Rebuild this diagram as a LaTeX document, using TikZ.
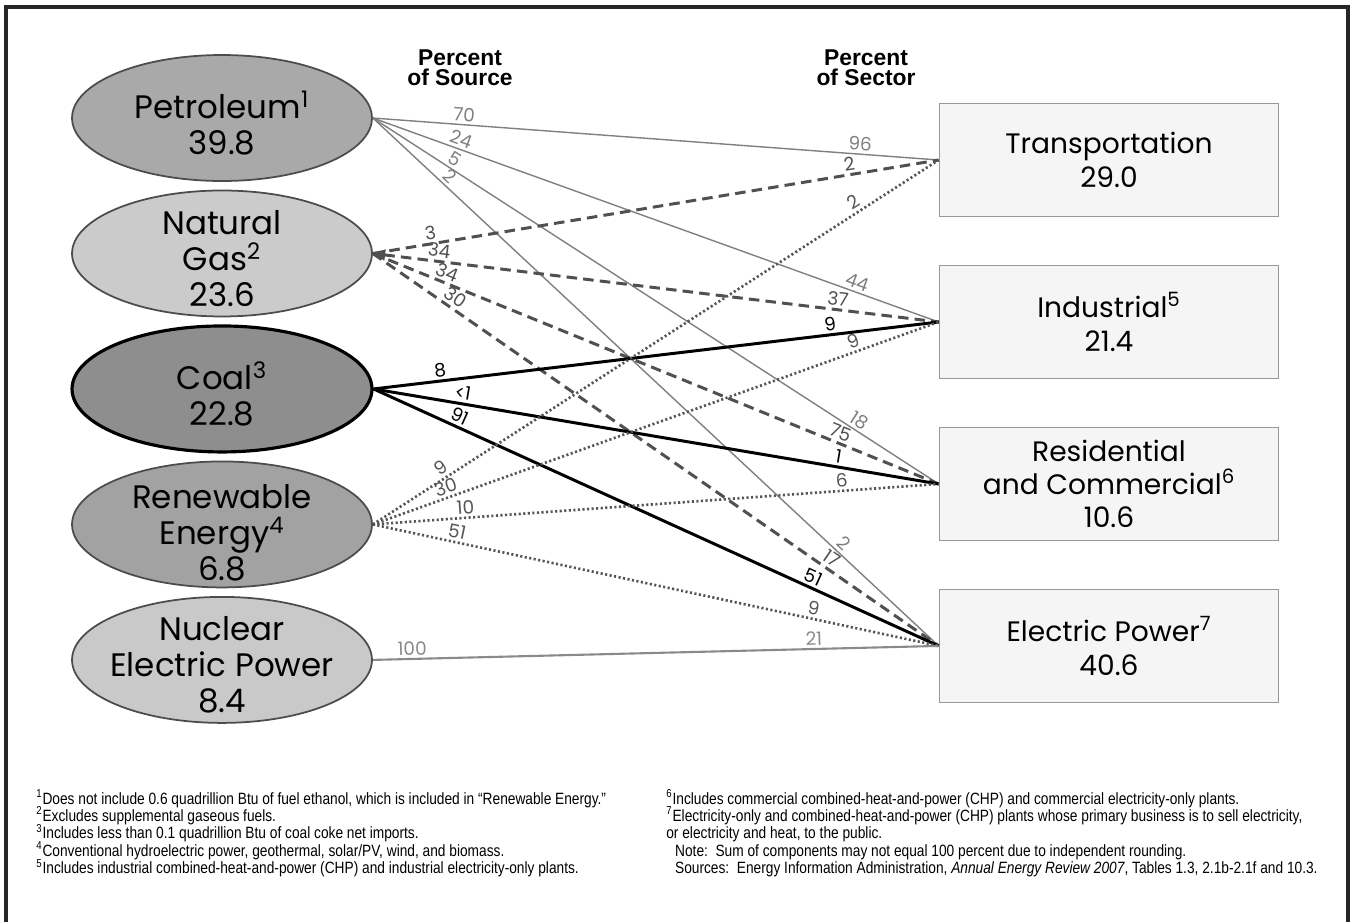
\documentclass[tikz,border=0pt]{standalone}
\usepackage{fontspec}
\setmainfont{Poppins}
\newfontfamily\notefont[FakeStretch=0.84]{Liberation Sans}
\newfontfamily\headfont{Liberation Sans}
\usetikzlibrary{positioning,shapes.geometric,arrows.meta}

\newcommand{\fnmark}[1]{\smash{\textsuperscript{#1}}}

\definecolor{petfill}{HTML}{A9A9A9}
\definecolor{gasfill}{HTML}{CBCBCB}
\definecolor{coalfill}{HTML}{8E8E8E}
\definecolor{renfill}{HTML}{A2A2A2}
\definecolor{nucfill}{HTML}{C9C9C9}
\definecolor{petgray}{HTML}{808080}
\definecolor{gasgray}{HTML}{505050}
\definecolor{rengray}{HTML}{555555}
\definecolor{nucgray}{HTML}{8A8A8A}

\tikzset{
  srcnode/.style={ellipse,draw=black!70,line width=1pt,minimum width=6cm,minimum height=2.52cm,inner sep=0pt},
  srctext/.style={align=center,yshift=-3pt,font=\fontsize{18.5}{20.5}\selectfont},
  secnode/.style={rectangle,draw=black!40,fill=black!4,line width=1pt,minimum width=6.78cm,minimum height=2.26cm,align=center,font=\fontsize{16}{19}\selectfont},
  pct/.style={sloped,above,inner sep=1.5pt,font=\fontsize{10.5}{11}\selectfont,text=#1},
  petline/.style={draw=petgray,line width=.8pt},
  gasline/.style={draw=gasgray,line width=1.7pt,dash pattern=on 6pt off 3.5pt},
  coalline/.style={draw=black,line width=1.7pt},
  renline/.style={draw=rengray,line width=1.5pt,dash pattern=on 1.2pt off 1.4pt},
  nucline/.style={draw=nucgray,line width=1.2pt},
  header/.style={align=center,font=\headfont\bfseries\fontsize{13}{11.5}\selectfont},
  notes/.style={anchor=north west,align=left,inner sep=0pt,font=\notefont\fontsize{9.3}{9.9}\selectfont},
}

\begin{document}
\begin{tikzpicture}[x=0.02cm,y=-0.02cm,node distance=2.71cm,on grid]
  \useasboundingbox (0,0) rectangle (1352,921);
  \draw[line width=2.4pt,black!85] (6,930) -- (6,7) -- (1348,7) -- (1348,930);

  % energy sources
  \node[srcnode,fill=petfill,label={[srctext]center:Petroleum\textsuperscript{1}\\39.8}] (pet) at (222,118) {};
  \node[srcnode,fill=gasfill,label={[srctext]center:Natural\\Gas\textsuperscript{2}\\23.6}] (gas) [below=of pet] {};
  \node[srcnode,fill=coalfill,draw=black,line width=1.8pt,label={[srctext]center:Coal\textsuperscript{3}\\22.8}] (coal) [below=of gas] {};
  \node[srcnode,fill=renfill,label={[srctext,yshift=-2pt]center:Renewable\\Energy\textsuperscript{4}\\6.8}] (ren) [below=of coal] {};
  \node[srcnode,fill=nucfill,label={[srctext]center:Nuclear\\Electric Power\\8.4}] (nuc) [below=of ren] {};

  % end-use sectors
  \node[secnode] (trans) at (1109,160) {Transportation\\29.0};
  \node[secnode] (ind) [below=3.24cm of trans] {Industrial\textsuperscript{5}\\21.4};
  \node[secnode] (res) [below=3.24cm of ind] {Residential\\and Commercial\textsuperscript{6}\\10.6};
  \node[secnode] (elec) [below=3.24cm of res] {Electric Power\textsuperscript{7}\\40.6};

  \node[header] (hdsrc) at (460,68) {Percent\\of Source};
  \node[header] (hdsec) at (866,68) {Percent\\of Sector};

  \path (pet.east)
    edge[petline] node[pct=petgray,pos=.16] {70} node[pct=petgray,pos=.86] {96} (trans.west)
    edge[petline] node[pct=petgray,pos=.15] {24} node[pct=petgray,pos=.85] {44} (ind.west)
    edge[petline] node[pct=petgray,pos=.135] {5} node[pct=petgray,pos=.85] {18} (res.west)
    edge[petline] node[pct=petgray,pos=.125] {2} node[pct=petgray,pos=.82] {2} (elec.west);
  \path (gas.east)
    edge[gasline] node[pct=gasgray,pos=.105] {3} node[pct=gasgray,pos=.845] {2} (trans.west)
    edge[gasline,{Triangle[length=7pt,width=6pt]}-] node[pct=gasgray,pos=.115] {34} node[pct=gasgray,pos=.82] {37} (ind.west)
    edge[gasline] node[pct=gasgray,pos=.125] {34} node[pct=gasgray,pos=.82] {75} (res.west)
    edge[gasline] node[pct=gasgray,pos=.135] {30} node[pct=gasgray,pos=.8] {17} (elec.west);
  \path (coal.east)
    edge[coalline] node[pct=black,pos=.12] {8} node[pct=black,pos=.81] {9} (ind.west)
    edge[coalline] node[pct=black,pos=.155] {<1} node[pct=black,pos=.82] {1} (res.west)
    edge[coalline] node[pct=black,pos=.145] {91} node[pct=black,pos=.77] {51} (elec.west);
  \path (ren.east)
    edge[renline] node[pct=rengray,pos=.13] {9} node[pct=rengray,pos=.86] {2} (trans.west)
    edge[renline] node[pct=rengray,pos=.135] {30} node[pct=rengray,pos=.855] {9} (ind.west)
    edge[renline] node[pct=rengray,pos=.165] {10} node[pct=rengray,pos=.83] {6} (res.west)
    edge[renline] node[pct=rengray,pos=.145] {51} node[pct=rengray,pos=.775] {9} (elec.west);
  \path (nuc.east)
    edge[nucline] node[pct=nucgray,pos=.07] {100} node[pct=nucgray,pos=.78] {21} (elec.west);

  % footnotes
  \node[notes] (notesl) at (36,792)
    {\fnmark{1}Does not include 0.6 quadrillion Btu of fuel ethanol, which is included in “Renewable Energy.”\\
     \fnmark{2}Excludes supplemental gaseous fuels.\\
     \fnmark{3}Includes less than 0.1 quadrillion Btu of coal coke net imports.\\
     \fnmark{4}Conventional hydroelectric power, geothermal, solar/PV, wind, and biomass.\\
     \fnmark{5}Includes industrial combined-heat-and-power (CHP) and industrial electricity-only plants.};
  \node[notes] (notesr) at (666,792)
    {\fnmark{6}Includes commercial combined-heat-and-power (CHP) and commercial electricity-only plants.\\
     \fnmark{7}Electricity-only and combined-heat-and-power (CHP) plants whose primary business is to sell electricity,\\
     or electricity and heat, to the public.\\
     \hspace*{5pt}Note:\ \ Sum of components may not equal 100 percent due to independent rounding.\\
     \hspace*{5pt}Sources:\ \ Energy Information Administration, \textit{Annual Energy Review 2007}, Tables 1.3, 2.1b-2.1f and 10.3.};
\end{tikzpicture}
\end{document}
